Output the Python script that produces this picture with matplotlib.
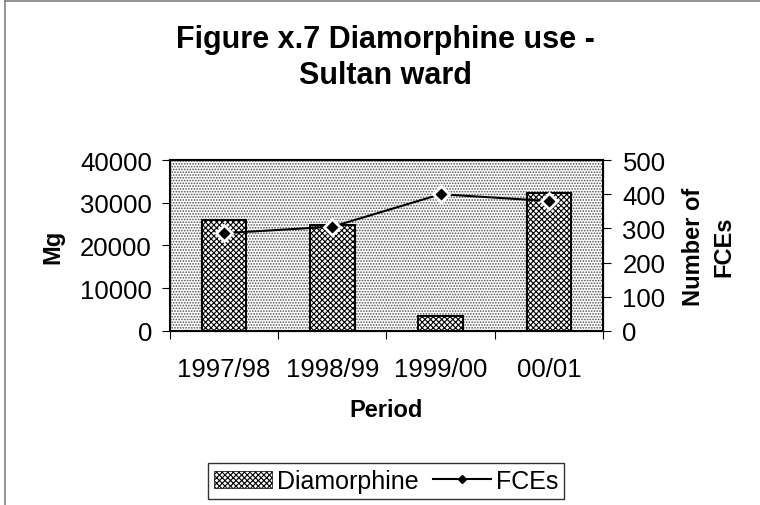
import numpy as np
import matplotlib.pyplot as plt
from matplotlib.patches import Rectangle
from matplotlib.lines import Line2D

plt.rcParams['font.family'] = ['Liberation Sans', 'DejaVu Sans']
plt.rcParams['hatch.linewidth'] = 0.8

periods = ['1997/98', '1998/99', '1999/00', '00/01']
diamorphine = [26000, 24700, 3400, 32200]
fces = [286, 305, 400, 380]

fig = plt.figure(figsize=(7.6, 5.06), dpi=100)
ax = fig.add_axes([0.2237, 0.3439, 0.5697, 0.3379])
x = np.arange(len(periods))

# dotted plot-area background
ax.add_patch(Rectangle((0, 0), 1, 1, transform=ax.transAxes, facecolor='white',
                       edgecolor='#505050', hatch='......', linewidth=0, zorder=0))
ax.bar(x, diamorphine, width=0.41, facecolor='white', edgecolor='black',
       hatch='xxxxxx', linewidth=1.5, zorder=2)
ax.set_xlim(-0.5, 3.5)
ax.set_ylim(0, 40000)
ax.set_yticks([0, 10000, 20000, 30000, 40000])
ax.set_xticks(np.arange(-0.5, 4, 1))
ax.set_xticklabels([])
ax.set_xticks(x, minor=True)
ax.set_xticklabels(periods, minor=True)
ax.tick_params(axis='x', which='minor', length=0, pad=19, labelsize=18.5)
ax.tick_params(axis='x', which='major', length=6, direction='out')
ax.tick_params(axis='y', labelsize=18.5, length=6, direction='out', pad=7)
for s in ax.spines.values():
    s.set_linewidth(1.5)
ax.set_ylabel('Mg', fontsize=17, fontweight='bold', labelpad=11)
ax.set_xlabel('Period', fontsize=17, fontweight='bold', labelpad=12)

ax2 = ax.twinx()
ax2.plot(x, fces, color='black', linewidth=1.5, marker='D', markersize=8,
         markerfacecolor='black', markeredgecolor='white', markeredgewidth=2, zorder=3)
ax2.set_ylim(0, 500)
ax2.set_yticks([0, 100, 200, 300, 400, 500])
ax2.tick_params(axis='y', labelsize=18.5, length=6, direction='out', pad=8)
ax2.set_ylabel('Number of\nFCEs', fontsize=17, fontweight='bold', labelpad=12, linespacing=1.4)

fig.text(0.507, 0.885, 'Figure x.7 Diamorphine use -\nSultan ward', ha='center', va='center',
         fontsize=22, fontweight='bold', linespacing=1.25)

handles = [Rectangle((0, 0), 1, 1, facecolor='white', edgecolor='black', hatch='xxxxxx', linewidth=0.5),
           Line2D([], [], color='black', linewidth=1.5, marker='D', markersize=4,
                  markerfacecolor='black', markeredgecolor='black')]
leg = fig.legend(handles, ['Diamorphine', 'FCEs'], loc='center', bbox_to_anchor=(0.508, 0.047),
                 ncol=2, fontsize=18, frameon=True, fancybox=False, edgecolor='black',
                 handlelength=2.3, handletextpad=0.2, columnspacing=0.6, borderpad=0.25,
                 borderaxespad=0)
leg.get_frame().set_linewidth(1.0)

# chart border (top and left visible)
fig.add_artist(Line2D([0.007, 0.007], [0, 0.996], color='#808080', linewidth=1.2))
fig.add_artist(Line2D([0.007, 1], [0.996, 0.996], color='#808080', linewidth=1.2))

fig.savefig('out.png', dpi=100)
